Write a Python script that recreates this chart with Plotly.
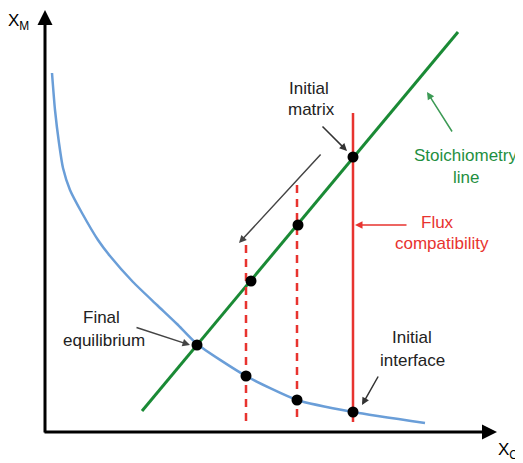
import plotly.graph_objects as go

# ---- data (schematic coordinates; y grows downward) ----
eq_curve_x = [52, 55, 59, 63, 70, 82, 98, 110, 133, 157, 177, 197, 246, 297, 353, 425]
eq_curve_y = [73, 110, 143, 168, 190, 213, 240, 256, 282, 305, 324, 344, 376, 400, 412, 423]

stoich_x = [142, 458]
stoich_y = [411, 32]

stoich_pts_x = [197, 251, 298, 353]
stoich_pts_y = [345, 281, 225, 157]

curve_pts_x = [246, 297, 353]
curve_pts_y = [376, 400, 412]

dashed_x = [246, 297]
dashed_top = [245, 185]
dashed_bottom = [422, 420]

flux_x = 353
flux_top = 113
flux_bottom = 422

axis_origin = (45, 432)
axis_y_tip = 10
axis_x_tip = 497

labels = [
    ("Initial", 309, 88, "#222222"),
    ("matrix", 311, 109, "#222222"),
    ("Stoichiometry", 465, 155, "#1f8f3f"),
    ("line", 466, 177, "#1f8f3f"),
    ("Flux", 437, 222, "#e8332f"),
    ("compatibility", 442, 243, "#e8332f"),
    ("Final", 101, 317, "#222222"),
    ("equilibrium", 104, 340, "#222222"),
    ("Initial", 412, 337, "#222222"),
    ("interface", 412, 360, "#222222"),
]

# arrows: (tail_x, tail_y, head_x, head_y, colour)
arrows = [
    (321, 125, 347, 151, "#333333"),
    (322, 153, 239, 243, "#444444"),
    (453, 133, 427, 92, "#3c9a55"),
    (408, 225, 355, 225, "#e8332f"),
    (135, 327, 190, 345, "#444444"),
    (379, 375, 362, 405, "#333333"),
]

BLUE = "#6a9ed8"
GREEN = "#1a8a35"
RED = "#e8332f"
FONT = "Liberation Sans, Arial, sans-serif"

# the page body has an 8px margin: shift the visible data window accordingly
PAGE_OFF = 8
W, H = 523, 463

fig = go.Figure()

fig.add_trace(go.Scatter(x=eq_curve_x, y=eq_curve_y, mode="lines",
                         line=dict(color=BLUE, width=2.5, shape="spline", smoothing=0.6),
                         hoverinfo="skip"))
fig.add_trace(go.Scatter(x=stoich_x, y=stoich_y, mode="lines",
                         line=dict(color=GREEN, width=3), hoverinfo="skip"))
for xv, yt, yb in zip(dashed_x, dashed_top, dashed_bottom):
    fig.add_trace(go.Scatter(x=[xv, xv], y=[yt, yb], mode="lines",
                             line=dict(color=RED, width=2.5, dash="8px,6px"), hoverinfo="skip"))
fig.add_trace(go.Scatter(x=[flux_x, flux_x], y=[flux_top, flux_bottom], mode="lines",
                         line=dict(color=RED, width=2.5), hoverinfo="skip"))
fig.add_trace(go.Scatter(x=stoich_pts_x + curve_pts_x, y=stoich_pts_y + curve_pts_y,
                         mode="markers", marker=dict(color="black", size=11),
                         hoverinfo="skip"))

annotations = []
ox, oy = axis_origin
annotations.append(dict(x=ox, y=axis_y_tip, ax=ox, ay=oy + 2, xref="x", yref="y",
                        axref="x", ayref="y", showarrow=True, arrowhead=2, arrowsize=1,
                        arrowwidth=3, arrowcolor="black", text=""))
annotations.append(dict(x=axis_x_tip, y=oy, ax=ox - 2, ay=oy, xref="x", yref="y",
                        axref="x", ayref="y", showarrow=True, arrowhead=2, arrowsize=1,
                        arrowwidth=3, arrowcolor="black", text=""))
annotations.append(dict(x=18, y=22, xref="x", yref="y", text="X<sub>M</sub>", showarrow=False,
                        font=dict(family=FONT, size=17, color="black")))
annotations.append(dict(x=508, y=451, xref="x", yref="y", text="X<sub>C</sub>", showarrow=False,
                        font=dict(family=FONT, size=17, color="black")))

for txt, xv, yv, col in labels:
    annotations.append(dict(x=xv, y=yv, xref="x", yref="y", text=txt, showarrow=False,
                            font=dict(family=FONT, size=17, color=col)))

for tx, ty, hx, hy, col in arrows:
    annotations.append(dict(x=hx, y=hy, ax=tx, ay=ty, xref="x", yref="y", axref="x", ayref="y",
                            showarrow=True, arrowhead=2, arrowsize=1, arrowwidth=1.5,
                            arrowcolor=col, text="", standoff=0, startstandoff=0))

fig.update_layout(
    width=W - PAGE_OFF, height=H - PAGE_OFF,
    margin=dict(l=0, r=0, t=0, b=0),
    plot_bgcolor="white", paper_bgcolor="white",
    showlegend=False,
    annotations=annotations,
    xaxis=dict(range=[PAGE_OFF, W], visible=False, fixedrange=True),
    yaxis=dict(range=[H, PAGE_OFF], visible=False, fixedrange=True),
)

fig.write_html("out.html")
